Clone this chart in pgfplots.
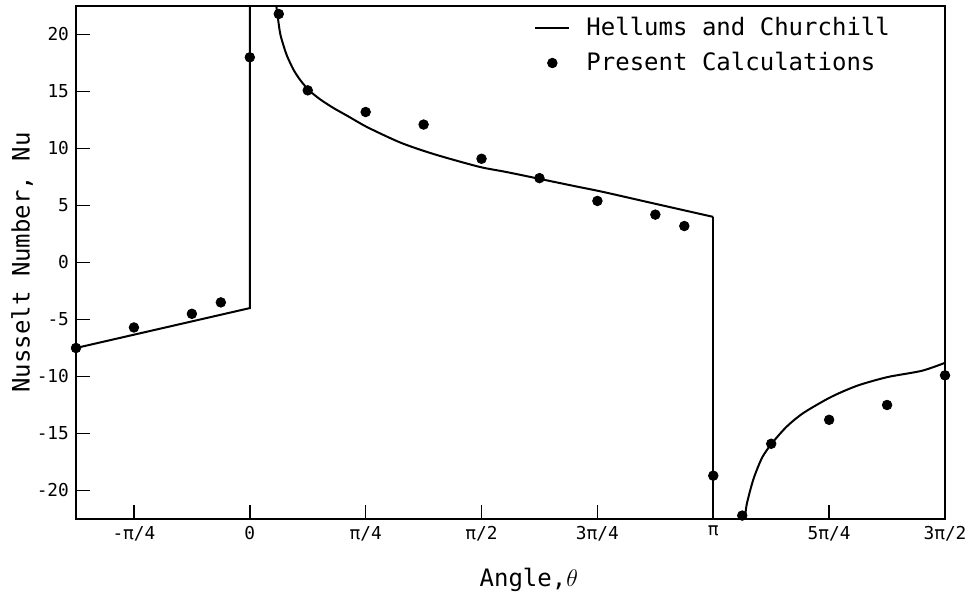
\documentclass[border=0pt]{standalone}
\usepackage{fontspec}
\setmainfont{DejaVu Sans Mono}
\usepackage{pgfplots}
\pgfplotsset{compat=1.18}

\begin{document}
\begin{tikzpicture}
\begin{axis}[
  scale only axis,
  width=434.5pt, height=256.5pt,
  xmin=-67.5, xmax=270, ymin=-22.5, ymax=22.5,
  xtick={-45,0,45,90,135,180,225,270},
  xticklabels={-π/4,0,π/4,π/2,3π/4,π,5π/4,3π/2},
  ytick={-20,-15,-10,-5,0,5,10,15,20},
  yticklabels={-20,-15,-10,-5,0,5,10,15,20},
  tick pos=left, tick align=inside, major tick length=7pt,
  tick style={line width=0.8pt, black},
  axis line style={line width=0.9pt},
  tick label style={font=\fontsize{8.9}{10}\selectfont},
  xlabel={Angle,$\theta$}, ylabel={Nusselt Number, Nu},
  every axis x label/.style={at={(axis description cs:0.521,-0.119)}, anchor=center,
    font=\fontsize{12}{14}\selectfont},
  every axis y label/.style={at={(axis description cs:-0.062,0.5)}, rotate=90, anchor=center,
    font=\fontsize{12}{14}\selectfont},
  legend style={draw=none, fill=none, at={(axis description cs:0.52,0.995)}, anchor=north west,
    font=\fontsize{12}{14}\selectfont, row sep=3pt,
    /tikz/every odd column/.append style={column sep=6pt}},
  legend cell align=left,
]
% Hellums and Churchill
\addplot[black, line width=1pt] coordinates {
  (-67.5,-7.5) (0,-4.0) (0,22.5)
};
\addlegendentry{Hellums and Churchill}
% Present calculations
\addplot[only marks, mark=*, mark size=2.4pt, black] coordinates {
  (-67.5,-7.5) (-45,-5.7) (-22.5,-4.5) (-11.25,-3.5)
  (0,18.0) (11.25,21.8) (22.5,15.1) (45,13.2) (67.5,12.1) (90,9.1)
  (112.5,7.4) (135,5.4) (157.5,4.2) (168.75,3.2) (180,-18.7)
  (191.25,-22.2) (202.5,-15.9) (225,-13.8) (247.5,-12.5) (270,-9.9)
};
\addlegendentry{Present Calculations}
\addplot[black, line width=1pt, smooth, tension=0.45, forget plot] coordinates {
  (10.3,22.5) (11.7,20.2) (13,19.1) (14.5,18.1) (17,16.9) (19.6,16.0)
  (23,15.1) (27.4,14.3) (32.5,13.55) (38,12.85) (45.8,11.85) (58.7,10.5)
  (71.6,9.5) (89,8.4) (100.5,7.9) (124,6.8) (137,6.2) (156.5,5.2) (180,4.0)
};
\addplot[black, line width=1pt, forget plot] coordinates {
  (180,4.0) (180,-22.5)
};
\addplot[black, line width=1pt, smooth, tension=0.45, forget plot] coordinates {
  (192.3,-22.5) (193,-21.2) (195.6,-19.0) (199,-17.1) (203,-15.8)
  (208.5,-14.4) (215,-13.2) (225.7,-11.8) (236,-10.8) (247.7,-10.05)
  (261,-9.5) (270,-8.8)
};
\end{axis}
\pgfresetboundingbox
\path ([shift={(-38pt,-39.5pt)}]current axis.south west) rectangle ([shift={(14.5pt,3pt)}]current axis.north east);
\end{tikzpicture}
\end{document}
